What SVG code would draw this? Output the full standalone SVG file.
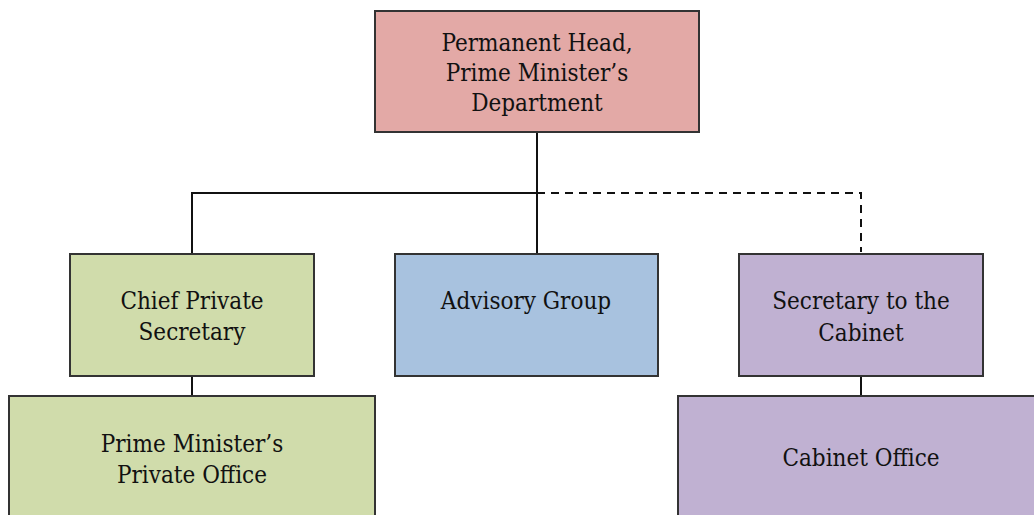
<svg xmlns="http://www.w3.org/2000/svg" width="1034" height="515" viewBox="0 0 1034 515">
<style>
.box{stroke:#333;stroke-width:2}
.red{fill:#E3A9A6}.green{fill:#D0DCAB}.blue{fill:#A8C2DF}.purple{fill:#C0B1D2}
.t{font-family:"DejaVu Serif Condensed","DejaVu Serif","Liberation Serif",serif;font-stretch:condensed;font-size:24px;fill:#111;text-anchor:middle}
.c{fill:none;stroke:#111;stroke-width:2}
.d{stroke-dasharray:8 6}
</style>
<rect width="1034" height="515" fill="#fff"/>
<g id="connectors">
<path class="c" d="M537 132V254"/>
<path class="c" d="M192 254V193H537"/>
<path class="c d" d="M537 193H861V252"/>
<path class="c" d="M192 376V396"/>
<path class="c" d="M861 376V396"/>
</g>
<g id="permanent-head">
<rect class="box red" x="375" y="11" width="324" height="121"/>
<text class="t" x="537" y="51">Permanent Head,</text>
<text class="t" x="537" y="81">Prime Minister’s</text>
<text class="t" x="537" y="111">Department</text>
</g>
<g id="chief-private-secretary">
<rect class="box green" x="70" y="254" width="244" height="122"/>
<text class="t" x="192" y="309">Chief Private</text>
<text class="t" x="192" y="340">Secretary</text>
</g>
<g id="advisory-group">
<rect class="box blue" x="395" y="254" width="263" height="122"/>
<text class="t" x="526" y="309">Advisory Group</text>
</g>
<g id="secretary-cabinet">
<rect class="box purple" x="739" y="254" width="244" height="122"/>
<text class="t" x="861" y="309">Secretary to the</text>
<text class="t" x="861" y="341">Cabinet</text>
</g>
<g id="private-office">
<rect class="box green" x="9" y="396" width="366" height="130"/>
<text class="t" x="192" y="452">Prime Minister’s</text>
<text class="t" x="192" y="483">Private Office</text>
</g>
<g id="cabinet-office">
<rect class="box purple" x="678" y="396" width="366" height="130"/>
<text class="t" x="861" y="466">Cabinet Office</text>
</g>
</svg>
